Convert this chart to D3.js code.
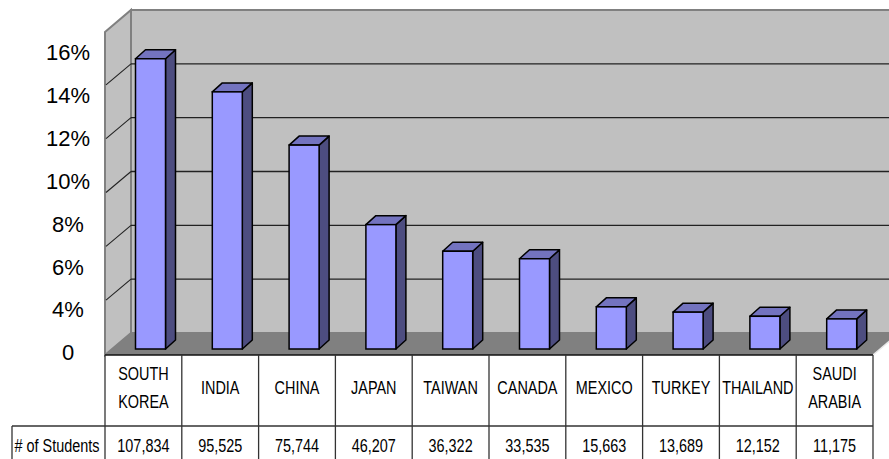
<!DOCTYPE html>
<html>
<head>
<meta charset="utf-8">
<script src="https://cdn.jsdelivr.net/npm/d3@7"></script>
<style>
  body { margin: 0; background: #fff; }
  .narrow { font-family: "Liberation Sans", Arial, sans-serif; font-size: 19px; fill: #000; }
</style>
</head>
<body>
<div id="canvas"></div>
<script>
// data
const countries = ["SOUTH KOREA", "INDIA", "CHINA", "JAPAN", "TAIWAN", "CANADA", "MEXICO", "TURKEY", "THAILAND", "SAUDI ARABIA"];
const students = [107834, 95525, 75744, 46207, 36322, 33535, 15663, 13689, 12152, 11175];
const percentLabels = ["0", "4%", "6%", "8%", "10%", "12%", "14%", "16%"];
const rowLabel = "# of Students";

const width = 889;
const height = 459;

// 3d look: depth offset of walls and bars
const wallDx = 26, wallDy = 22;
const barDx = 10, barDy = 9;

const left = 105, right = 873;
const floorFront = 355;
const backTop = 10, backBottom = floorFront - wallDy;

// no narrow font installed, so squeeze the table text
const squeeze = 0.76;

const svg = d3.select("#canvas").append("svg")
  .attr("width", width)
  .attr("height", height);

const x = d3.scaleBand()
  .domain(countries)
  .range([left, right]);

// back wall scale and the scale at the bar front plane
const yBack = d3.scaleLinear().domain([0, 120000]).range([backBottom, backTop]);
const yBar = d3.scaleLinear().domain([0, 120000]).range([backBottom + 16, backTop + 16]);

const yLab = d3.scalePoint().domain(percentLabels).range([352.5, 52]);

// walls
svg.append("rect")
  .attr("x", left + wallDx).attr("y", backTop)
  .attr("width", width).attr("height", backBottom - backTop)
  .style("fill", "#c0c0c0").style("stroke", "#808080").style("stroke-width", 2);

svg.append("polygon")
  .attr("points", [[left, backTop + wallDy], [left + wallDx, backTop], [left + wallDx, backBottom], [left, floorFront]].join(" "))
  .style("fill", "#c0c0c0").style("stroke", "#808080").style("stroke-width", 2);

// gridlines
const ticks = yBack.ticks(6).filter(d => d > 0 && d < 120000);
svg.selectAll(".grid").data(ticks).enter().append("line")
  .attr("class", "grid")
  .attr("x1", left + wallDx).attr("x2", width)
  .attr("y1", d => yBack(d)).attr("y2", d => yBack(d))
  .style("stroke", "#222").style("stroke-width", 1.3);

svg.selectAll(".sgrid").data(ticks).enter().append("line")
  .attr("class", "sgrid")
  .attr("x1", left + 1).attr("x2", left + wallDx)
  .attr("y1", d => yBack(d) + wallDy - 1).attr("y2", d => yBack(d))
  .style("stroke", "#222").style("stroke-width", 1.1);

// floor
svg.append("polygon")
  .attr("points", [[left, floorFront], [left + wallDx, backBottom], [right + wallDx, backBottom], [right, floorFront]].join(" "))
  .style("fill", "#808080");
svg.append("line")
  .attr("x1", right).attr("y1", floorFront).attr("x2", right + wallDx).attr("y2", backBottom)
  .style("stroke", "#e8e8e8").style("stroke-width", 1.5);

// bars
const bx = d => x(d) + 30.5;
const bw = 30;
const base = yBar(0);
const bars = svg.selectAll(".bar").data(countries.map((c, i) => ({ c: c, v: students[i] }))).enter().append("g").attr("class", "bar");

bars.append("polygon")
  .attr("points", d => [[bx(d.c) + bw, yBar(d.v)], [bx(d.c) + bw + barDx, yBar(d.v) - barDy], [bx(d.c) + bw + barDx, base - barDy], [bx(d.c) + bw, base]].join(" "))
  .style("fill", "#4d4d80").style("stroke", "#000").style("stroke-width", 1.5).style("stroke-linejoin", "round");

bars.append("polygon")
  .attr("points", d => [[bx(d.c), yBar(d.v)], [bx(d.c) + barDx, yBar(d.v) - barDy], [bx(d.c) + bw + barDx, yBar(d.v) - barDy], [bx(d.c) + bw, yBar(d.v)]].join(" "))
  .style("fill", "#7373bf").style("stroke", "#000").style("stroke-width", 1.5).style("stroke-linejoin", "round");

bars.append("rect")
  .attr("x", d => bx(d.c))
  .attr("y", d => yBar(d.v))
  .attr("width", bw)
  .attr("height", d => base - yBar(d.v))
  .style("fill", "#9999ff").style("stroke", "#000").style("stroke-width", 1.5);

// y labels
svg.selectAll(".ylab").data(percentLabels).enter().append("text")
  .attr("class", "ylab")
  .attr("x", 68)
  .attr("y", d => yLab(d))
  .attr("dy", "0.36em")
  .attr("text-anchor", "middle")
  .style("font-family", "'Liberation Sans', Arial, sans-serif")
  .style("font-size", "22px")
  .style("fill", "#000")
  .text(d => d);

// data table
const rowMid = 426;
const tbl = svg.append("g").style("stroke", "#333").style("stroke-width", 1.3);
tbl.append("line").attr("x1", left).attr("x2", right).attr("y1", floorFront).attr("y2", floorFront).style("stroke", "#111");
tbl.append("line").attr("x1", 12).attr("x2", right).attr("y1", rowMid).attr("y2", rowMid);
tbl.append("line").attr("x1", 12).attr("x2", 12).attr("y1", rowMid).attr("y2", height);
tbl.selectAll(".vline").data(countries).enter().append("line")
  .attr("x1", d => x(d)).attr("x2", d => x(d))
  .attr("y1", floorFront).attr("y2", height);
tbl.append("line").attr("x1", right).attr("x2", right).attr("y1", floorFront).attr("y2", height);

const cat = svg.selectAll(".cat").data(countries).enter().append("text")
  .attr("class", "cat narrow")
  .attr("transform", d => `translate(${x(d) + x.bandwidth() / 2},387) scale(${squeeze},1)`)
  .attr("text-anchor", "middle");

cat.each(function (d) {
  const words = d.split(" ");
  const t = d3.select(this);
  words.forEach((w, i) => {
    t.append("tspan")
      .attr("x", 0)
      .attr("dy", i === 0 ? (0.36 - (words.length - 1) * 0.72) + "em" : "1.44em")
      .text(w);
  });
});

svg.append("text")
  .attr("class", "narrow")
  .attr("transform", `translate(57,445) scale(${squeeze},1)`)
  .attr("dy", "0.36em")
  .attr("text-anchor", "middle")
  .text(rowLabel);

svg.selectAll(".val").data(students).enter().append("text")
  .attr("class", "val narrow")
  .attr("transform", (d, i) => `translate(${x(countries[i]) + x.bandwidth() / 2},445) scale(${squeeze},1)`)
  .attr("dy", "0.36em")
  .attr("text-anchor", "middle")
  .text(d => d3.format(",")(d));
</script>
</body>
</html>
